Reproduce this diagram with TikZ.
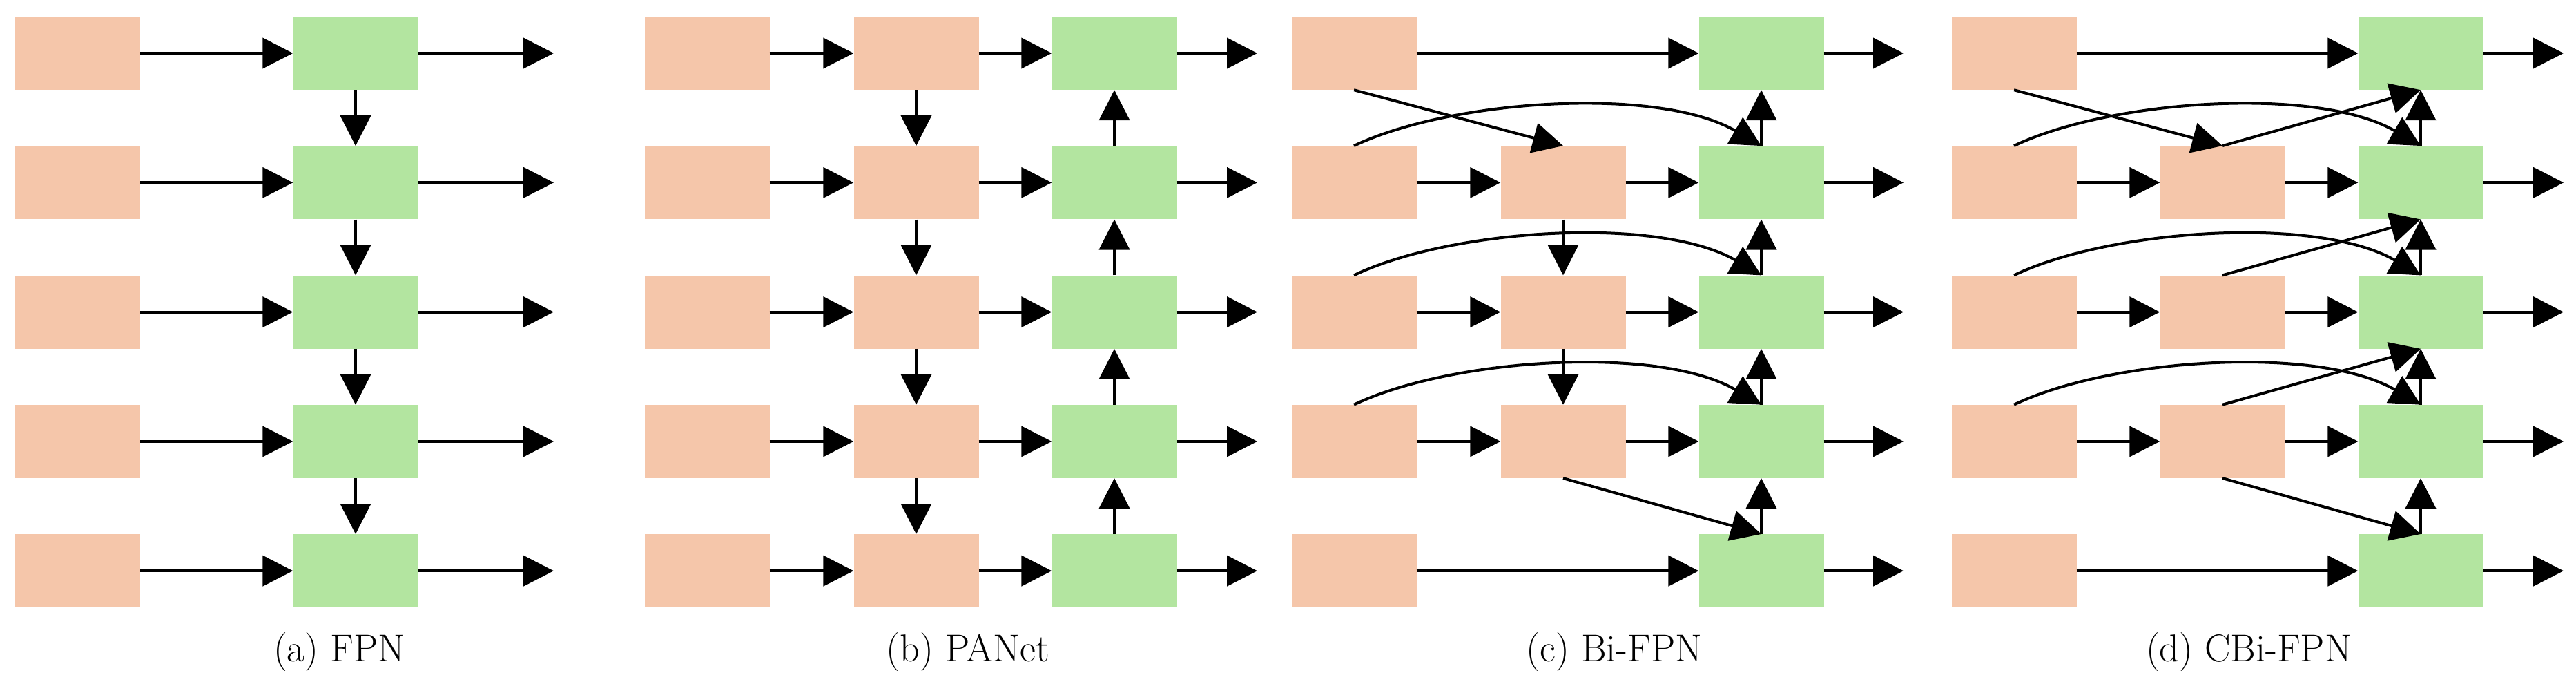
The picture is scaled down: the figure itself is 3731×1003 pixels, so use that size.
\documentclass[tikz,border=0pt]{standalone}
\usetikzlibrary{arrows.meta}
\definecolor{pk}{HTML}{F5C6AA}
\definecolor{gr}{HTML}{B3E5A0}
\begin{document}
\begin{tikzpicture}[x=1pt,y=-1pt,
  box/.style={minimum width=181pt,minimum height=106pt,inner sep=0pt,draw=none},
  P/.style={box,fill=pk},G/.style={box,fill=gr},
  ar/.style={line width=4pt,-{Triangle[length=44pt,width=44pt]}},
  captxt/.style={font=\fontsize{56}{60}\selectfont}]
\useasboundingbox (0,0) rectangle (3731,1003);
\foreach \i in {0,...,4}{
  \pgfmathsetmacro\y{77+187.3*\i}
  \node[P] (a1\i) at (112.5,\y) {};
  \node[G] (ag\i) at (515,\y) {};
  \coordinate (ao\i) at (802,\y);
  \node[P] (b1\i) at (1024,\y) {};
  \node[P] (b2\i) at (1327,\y) {};
  \node[G] (bg\i) at (1614,\y) {};
  \coordinate (bo\i) at (1821,\y);
  \node[P] (c1\i) at (1961,\y) {};
  \node[G] (cg\i) at (2551,\y) {};
  \coordinate (co\i) at (2757,\y);
  \node[P] (d1\i) at (2917,\y) {};
  \node[G] (dg\i) at (3506,\y) {};
  \coordinate (do\i) at (3713,\y);
}
\foreach \i in {1,2,3}{
  \pgfmathsetmacro\y{77+187.3*\i}
  \node[P] (c2\i) at (2264,\y) {};
  \node[P] (d2\i) at (3219,\y) {};
}
\foreach \i in {0,...,4}{
  \draw[ar] (a1\i.east) -- (ag\i.west);
  \draw[ar] (ag\i.east) -- (ao\i);
  \draw[ar] (b1\i.east) -- (b2\i.west);
  \draw[ar] (b2\i.east) -- (bg\i.west);
  \draw[ar] (bg\i.east) -- (bo\i);
  \draw[ar] (cg\i.east) -- (co\i);
  \draw[ar] (dg\i.east) -- (do\i);
}
\foreach \i in {0,4}{
  \draw[ar] (c1\i.east) -- (cg\i.west);
  \draw[ar] (d1\i.east) -- (dg\i.west);
}
\foreach \i in {1,2,3}{
  \draw[ar] (c1\i.east) -- (c2\i.west);
  \draw[ar] (c2\i.east) -- (cg\i.west);
  \draw[ar] (d1\i.east) -- (d2\i.west);
  \draw[ar] (d2\i.east) -- (dg\i.west);
  \draw[ar] (c1\i.north) .. controls ++(140,-67) and ++(-150,-87) .. (cg\i.north);
  \draw[ar] (d1\i.north) .. controls ++(140,-67) and ++(-150,-87) .. (dg\i.north);
}
\foreach \i/\j in {0/1,1/2,2/3,3/4}{
  \draw[ar] (ag\i.south) -- (ag\j.north);
  \draw[ar] (b2\i.south) -- (b2\j.north);
  \draw[ar] (bg\j.north) -- (bg\i.south);
  \draw[ar] (cg\j.north) -- (cg\i.south);
  \draw[ar] (dg\j.north) -- (dg\i.south);
}
\draw[ar] (c21.south) -- (c22.north);
\draw[ar] (c22.south) -- (c23.north);
\draw[ar] (c10.south) -- (c21.north);
\draw[ar] (c23.south) -- (cg4.north);
\draw[ar] (d10.south) -- (d21.north);
\draw[ar] (d23.south) -- (dg4.north);
\draw[ar] (d21.north) -- (dg0.south);
\draw[ar] (d22.north) -- (dg1.south);
\draw[ar] (d23.north) -- (dg2.south);
\node[captxt] (ca) at (491,944) {(a) FPN};
\node[captxt] (cb) at (1402,944) {(b) PANet};
\node[captxt] (cc) at (2338,944) {(c) Bi-FPN};
\node[captxt] (cd) at (3257,944) {(d) CBi-FPN};
\end{tikzpicture}
\end{document}
